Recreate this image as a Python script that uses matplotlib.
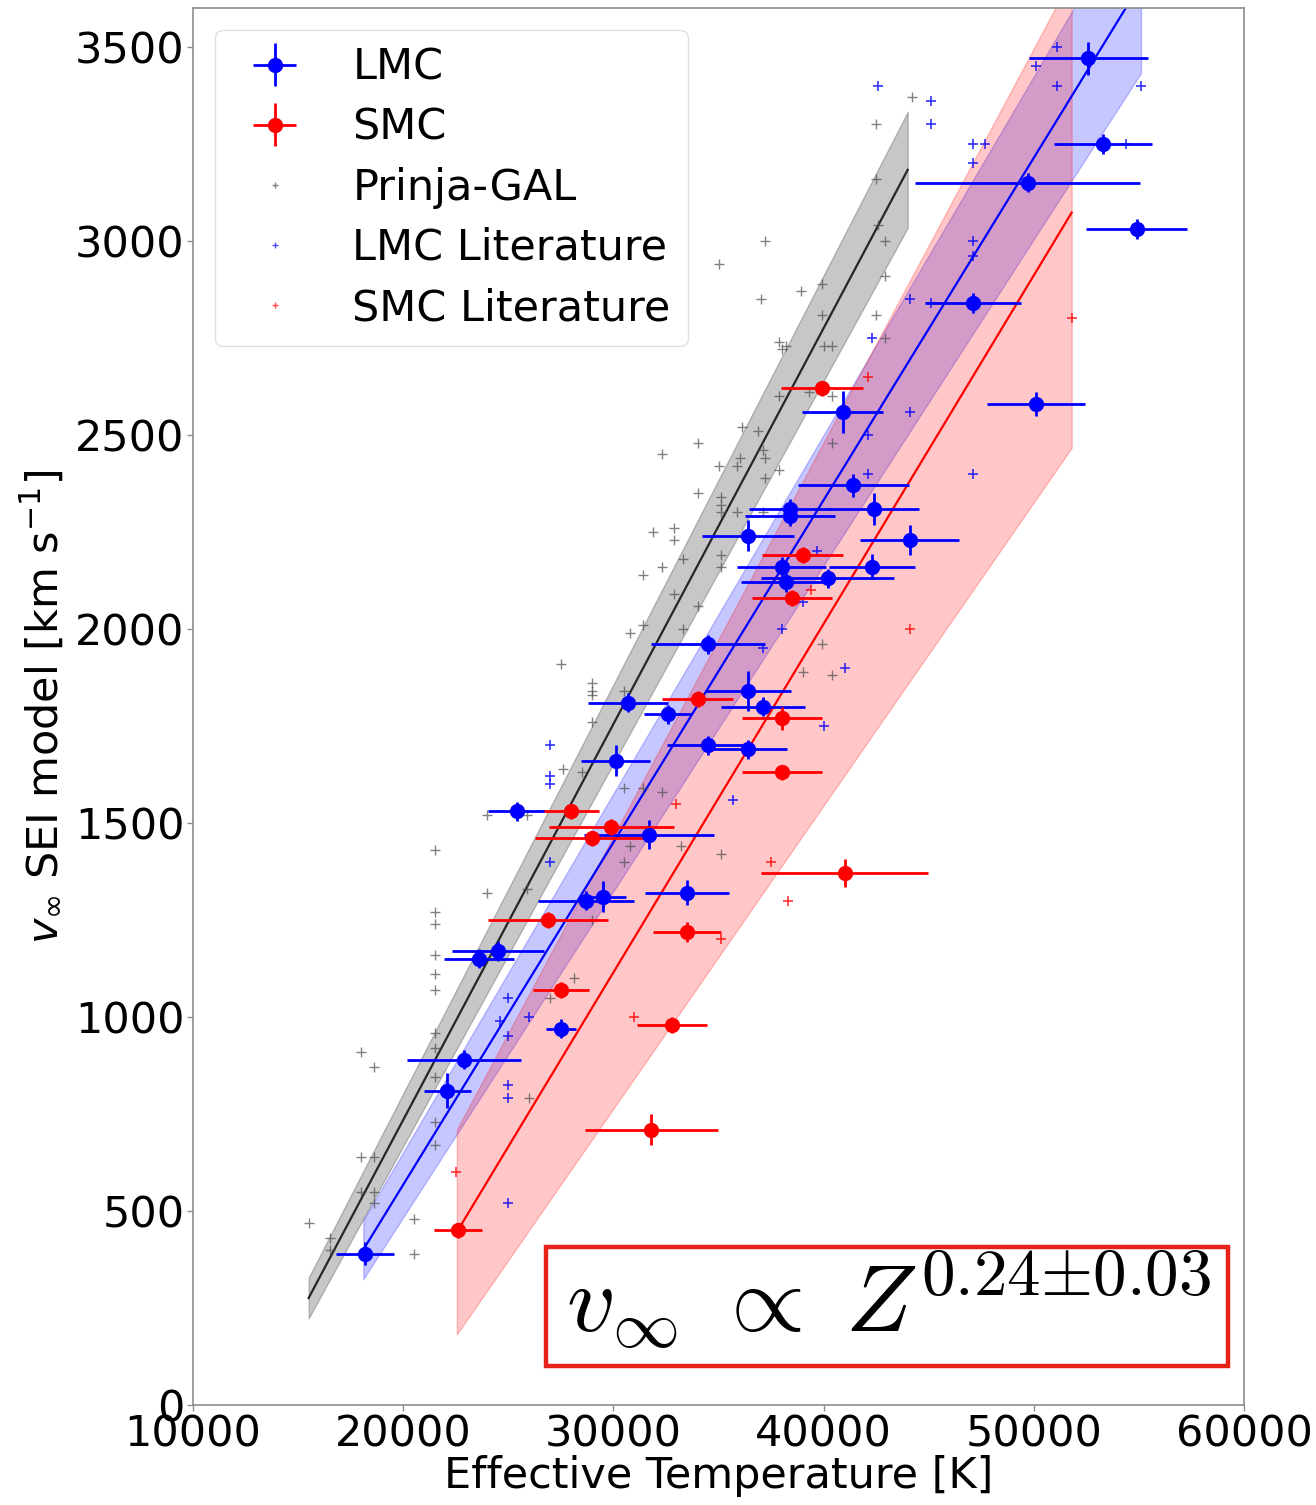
import matplotlib.pyplot as plt
import numpy as np
from matplotlib.lines import Line2D
from matplotlib.patches import Rectangle

plt.rcParams['font.family'] = ['DejaVu Sans']
plt.rcParams['font.size'] = 31

# LMC stars (this work): Teff [K], v_inf [km/s]
lmc_teff = [18200, 22100, 22900, 23600, 24500, 25400, 27500, 28700, 29500, 30100,
            30700, 31700, 32600, 33500, 34500, 34500, 36400, 36400, 37100, 36400,
            38000, 38200, 38400, 38400, 40200, 40900, 41400, 42300, 42400, 44100,
            47100, 49700, 50100, 52600, 53300, 54900]
lmc_teff_err = [1380, 1100, 2700, 1650, 2200, 1350, 700, 2300, 1100, 1660,
                1900, 3100, 1140, 2000, 2700, 1950, 1850, 2050, 2000, 2200,
                2100, 2150, 1970, 2140, 3160, 1930, 2640, 2050, 2140, 2360,
                2280, 5350, 2330, 2830, 2330, 2400]
lmc_vinf = [390, 810, 890, 1150, 1170, 1530, 970, 1300, 1310, 1660,
            1810, 1470, 1780, 1320, 1960, 1700, 1690, 1840, 1800, 2240,
            2160, 2120, 2310, 2290, 2130, 2560, 2370, 2160, 2310, 2230,
            2840, 3150, 2580, 3470, 3250, 3030]
lmc_vinf_err = [30, 45, 25, 25, 25, 25, 25, 25, 40, 40,
                25, 37, 25, 32, 25, 25, 25, 52, 25, 40,
                25, 25, 25, 25, 25, 54, 30, 32, 41, 39,
                25, 25, 31, 43, 25, 25]

# SMC stars (this work)
smc_teff = [22600, 26900, 27500, 28000, 29000, 29900, 31800, 32800, 33500, 34000,
            38000, 38000, 38500, 39000, 39900, 41000]
smc_teff_err = [1140, 2850, 1350, 1300, 2740, 2970, 3160, 1660, 1640, 1710,
                1900, 1900, 1900, 1930, 1950, 3970]
smc_vinf = [450, 1250, 1070, 1530, 1460, 1490, 710, 980, 1220, 1820,
            1770, 1630, 2080, 2190, 2620, 1370]
smc_vinf_err = [20, 20, 20, 20, 20, 20, 40, 20, 26, 20,
                30, 20, 20, 20, 20, 36]

# Galactic sample (Prinja)
gal_teff = [15500, 16500, 16500, 18000, 18600, 18000, 18600, 18000, 18600, 18600,
            20500, 20500, 21500, 21500, 21500, 21500, 21500, 21500, 21500, 21500,
            21500, 21500, 21500, 24000, 24000, 25900, 25900, 26000, 27000, 28100,
            29000, 30800, 30500, 30500, 31400, 32300, 33200, 35100, 27600, 28500,
            29000, 27500, 29000, 29000, 29000, 30500, 31400, 31400, 30800, 31900,
            32900, 32900, 32300, 32300, 33300, 33300, 32900, 34000, 34000, 34000,
            35000, 35000, 35100, 35100, 35100, 35100, 35100, 35900, 35900, 36100,
            36000, 36900, 37100, 37200, 37200, 37100, 37200, 37000, 37900, 37900,
            38200, 38000, 37900, 38900, 39300, 39900, 39900, 40000, 40400, 40400,
            40400, 39900, 39000, 40400, 42500, 42900, 42900, 42900, 42600, 42500,
            42500, 44200]
gal_vinf = [470, 430, 400, 910, 870, 640, 640, 550, 550, 520,
            480, 390, 1430, 1270, 1240, 1160, 1110, 1070, 960, 920,
            845, 730, 670, 1320, 1520, 1330, 1520, 790, 1050, 1100,
            1250, 1440, 1400, 1590, 1590, 1580, 1440, 1420, 1640, 1630,
            1760, 1910, 1860, 1840, 1830, 1840, 2140, 2010, 1990, 2250,
            2260, 2230, 2160, 2450, 2180, 2000, 2090, 2060, 2480, 2350,
            2940, 2420, 2340, 2320, 2300, 2190, 2160, 2300, 2420, 2520,
            2440, 2510, 2460, 2440, 2390, 2300, 3000, 2850, 2410, 2740,
            2730, 2720, 2600, 2870, 2610, 2890, 2810, 2730, 2730, 2600,
            2480, 1960, 1890, 1880, 2810, 2750, 2910, 3000, 3040, 3160,
            3300, 3370]

# LMC literature values
lmclit_teff = [27000, 27000, 27000, 27000, 25000, 24600, 26000, 25000, 25000, 25000,
               25000, 35700, 44100, 42300, 44100, 42100, 42100, 39700, 39000, 38000,
               37100, 41000, 40000, 47100, 42600, 45100, 45100, 47100, 47700, 47100,
               51100, 50100, 51100, 55100, 54400, 47100, 47100, 45100]
lmclit_vinf = [1700, 1620, 1600, 1400, 1050, 990, 1000, 950, 825, 790,
               520, 1560, 2850, 2750, 2560, 2500, 2400, 2200, 2070, 2000,
               1950, 1900, 1750, 2400, 3400, 3360, 3300, 3250, 3250, 3200,
               3500, 3450, 3400, 3400, 3250, 3000, 2960, 2840]

# SMC literature values
smclit_teff = [42100, 51800, 44100, 39400, 33000, 37500, 35100, 31000, 22500, 38300]
smclit_vinf = [2650, 2800, 2000, 2100, 1550, 1400, 1200, 1000, 600, 1300]

# linear fits v = a*Teff + b, band from slope uncertainty, over Teff range
gal_fit = dict(a=0.1020, b=-1305, da=0.0034, tmin=15500, tmax=44000)
lmc_fit = dict(a=0.0882, b=-1196, da=0.0042, tmin=18100, tmax=55100)
smc_fit = dict(a=0.0898, b=-1579, da=0.0117, tmin=22550, tmax=51800)

fig = plt.figure(figsize=(13.16, 15.05), dpi=100)
ax = fig.add_axes([0.1467, 0.0664, 0.7986, 0.9283])


def draw_fit(fit, color, line_color):
    t = np.linspace(fit['tmin'], fit['tmax'], 100)
    lo = (fit['a'] - fit['da']) * t + fit['b']
    hi = (fit['a'] + fit['da']) * t + fit['b']
    ax.fill_between(t, lo, hi, color=color, alpha=0.22, zorder=1)
    ax.plot(t, fit['a'] * t + fit['b'], color=line_color, lw=1.6, zorder=2)


draw_fit(gal_fit, 'k', '0.15')
draw_fit(lmc_fit, 'b', 'b')
draw_fit(smc_fit, 'r', 'r')

ax.plot(gal_teff, gal_vinf, '+', color='0.3', ms=7, mew=1, alpha=0.7, zorder=3)
ax.plot(lmclit_teff, lmclit_vinf, '+', color='b', ms=7, mew=1.2, alpha=0.8, zorder=3)
ax.plot(smclit_teff, smclit_vinf, '+', color='r', ms=7, mew=1.2, alpha=0.8, zorder=3)

lmc = ax.errorbar(lmc_teff, lmc_vinf, xerr=lmc_teff_err, yerr=lmc_vinf_err,
                  fmt='o', color='b', ms=10, elinewidth=2, capsize=0, zorder=5)
smc = ax.errorbar(smc_teff, smc_vinf, xerr=smc_teff_err, yerr=smc_vinf_err,
                  fmt='o', color='r', ms=10, elinewidth=2, capsize=0, zorder=5)

handles = [lmc, smc,
           Line2D([], [], ls='none', marker='+', color='0.5', ms=5, mew=1),
           Line2D([], [], ls='none', marker='+', color='b', ms=5, mew=1, alpha=0.7),
           Line2D([], [], ls='none', marker='+', color='r', ms=5, mew=1, alpha=0.7)]
labels = ['LMC', 'SMC', 'Prinja-GAL', 'LMC Literature', 'SMC Literature']
leg = ax.legend(handles, labels, loc='upper left', fontsize=31, labelspacing=0.42,
                fancybox=True, framealpha=0.8)
leg.get_frame().set_edgecolor('0.85')

ax.set_xlim(10000, 60000)
ax.set_ylim(0, 3600)
ax.set_xticks(np.arange(10000, 60001, 10000))
ax.set_yticks(np.arange(0, 3501, 500))
ax.set_xlabel('Effective Temperature [K]', labelpad=0)
ax.set_ylabel(r'$v_\infty$ SEI model [km s$^{-1}$]', labelpad=6)
for s in ax.spines.values():
    s.set_color('0.55')
    s.set_linewidth(1.2)
ax.tick_params(color='0.55', length=4, width=1, pad=2)

# metallicity scaling box
ax.add_patch(Rectangle((0.336, 0.028), 0.649, 0.085, transform=ax.transAxes,
                       fill=False, edgecolor='#e62117', lw=3.2, zorder=6))
ax.text(0.355, 0.075, r'$v_\infty\ \propto\; Z^{0.24{\pm}0.03}$', transform=ax.transAxes,
        fontsize=69, math_fontfamily='cm', ha='left', va='center', zorder=7)

fig.savefig('out.png', dpi=100)
